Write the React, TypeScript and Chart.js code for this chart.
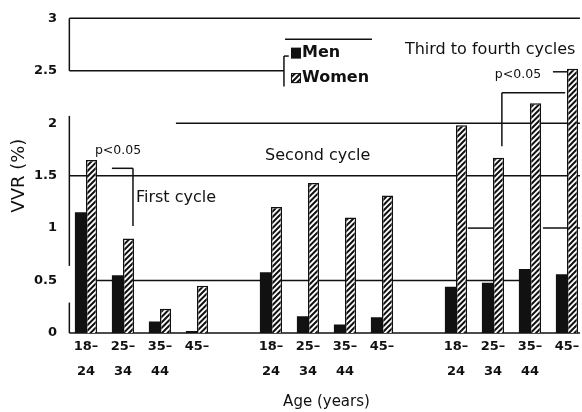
import React, { useEffect, useRef } from 'react';
import { Chart, registerables } from 'chart.js';

Chart.register(...registerables);

// ---- data ----
const ageGroups: (string | string[])[] = [['18–', '24'], ['25–', '34'], ['35–', '44'], ['45–']];
const cycleNames = ['First cycle', 'Second cycle', 'Third to fourth cycles'];
const seriesNames = ['Men', 'Women'];
const menFirst = [1.15, 0.55, 0.11, 0.02];
const womenFirst = [1.65, 0.9, 0.23, 0.45];
const menSecond = [0.58, 0.16, 0.08, 0.15];
const womenSecond = [1.2, 1.43, 1.1, 1.31];
const menThird = [0.44, 0.48, 0.61, 0.56];
const womenThird = [1.98, 1.67, 2.19, 2.52];
const yTicks = [0, 0.5, 1, 1.5, 2, 2.5, 3];
const yTitle = 'VVR (%)';
const xTitle = 'Age (years)';
const pText = 'p<0.05';

const labels = [...ageGroups, '', ...ageGroups, '', ...ageGroups];
const menData = [...menFirst, null, ...menSecond, null, ...menThird];
const womenData = [...womenFirst, null, ...womenSecond, null, ...womenThird];

const INK = '#111';
const FONT = "'DejaVu Sans', sans-serif";

function makeHatch(ctx: CanvasRenderingContext2D) {
  const s = 5.5;
  const n = 11;
  const c = document.createElement('canvas');
  c.width = n;
  c.height = n;
  const g = c.getContext('2d')!;
  g.fillStyle = '#fff';
  g.fillRect(0, 0, n, n);
  g.strokeStyle = INK;
  g.lineWidth = 2;
  g.beginPath();
  for (let k = -2; k <= 4; k++) {
    const o = k * s;
    g.moveTo(o - 2, n + 2);
    g.lineTo(o + n + 2, -2);
  }
  g.stroke();
  return ctx.createPattern(c, 'repeat')!;
}

export default function App() {
  const ref = useRef<HTMLCanvasElement>(null);

  useEffect(() => {
    document.body.style.margin = '0';
    document.body.style.overflow = 'hidden';
    const canvas = ref.current!;
    const c2d = canvas.getContext('2d')!;
    const hatch = makeHatch(c2d);

    const annot = {
      id: 'annot',
      beforeDatasetsDraw(chart: any) {
        const { ctx } = chart;
        const xs = chart.scales.x;
        const ys = chart.scales.y;
        const X = (u: number) => xs.left + (u * xs.width) / labels.length;
        const Y = (v: number) => ys.getPixelForValue(v);
        ctx.save();
        ctx.strokeStyle = INK;
        ctx.lineWidth = 1.5;
        const h = (v: number, u0: number, u1: number) => {
          ctx.beginPath();
          ctx.moveTo(X(u0), Y(v));
          ctx.lineTo(X(u1), Y(v));
          ctx.stroke();
        };
        const vl = (u: number, v0: number, v1: number) => {
          ctx.beginPath();
          ctx.moveTo(X(u), Y(v0));
          ctx.lineTo(X(u), Y(v1));
          ctx.stroke();
        };
        // horizontal reference lines (as in the scanned figure)
        h(3, 0.05, 13.85);
        h(2.5, 0.05, 5.85);
        h(2, 2.93, 13.85);
        h(1.5, 0.05, 13.85);
        h(1, 10.82, 11.5);
        h(1, 12.85, 13.85);
        h(0.5, 0.5, 12.55);
        h(0, 0.05, 13.85);
        // broken y axis
        vl(0.05, 2.5, 3);
        vl(0.05, 0.64, 2.07);
        vl(0.05, 0, 0.29);
        ctx.restore();
      },
      afterDatasetsDraw(chart: any) {
        const { ctx } = chart;
        const xs = chart.scales.x;
        const ys = chart.scales.y;
        const X = (u: number) => xs.left + (u * xs.width) / labels.length;
        const Y = (v: number) => ys.getPixelForValue(v);
        ctx.save();
        ctx.strokeStyle = INK;
        ctx.fillStyle = INK;
        ctx.lineWidth = 1.5;
        const seg = (u0: number, v0: number, u1: number, v1: number) => {
          ctx.beginPath();
          ctx.moveTo(X(u0), Y(v0));
          ctx.lineTo(X(u1), Y(v1));
          ctx.stroke();
        };
        // legend bracket and top line
        seg(5.88, 2.8, 8.23, 2.8);
        seg(5.85, 2.64, 5.85, 2.35);
        seg(5.85, 2.64, 5.98, 2.64);
        // first cycle bracket
        seg(1.2, 1.57, 1.77, 1.57);
        seg(1.77, 1.57, 1.77, 1.02);
        // third cycle bracket
        seg(11.74, 2.29, 13.45, 2.29);
        seg(11.74, 2.29, 11.74, 1.78);
        seg(13.12, 2.49, 13.53, 2.49);

        // legend boxes
        const bx = X(6.04);
        ctx.fillStyle = INK;
        ctx.fillRect(bx, Y(2.668) - 5.5, 10, 11);
        ctx.fillStyle = hatch;
        ctx.fillRect(bx, Y(2.43) - 5, 10, 10);
        ctx.lineWidth = 1;
        ctx.strokeRect(bx + 0.5, Y(2.43) - 5 + 0.5, 9, 9);

        // texts
        ctx.fillStyle = INK;
        ctx.textBaseline = 'middle';
        ctx.textAlign = 'left';
        ctx.font = `bold 16px ${FONT}`;
        ctx.fillText(seriesNames[0], X(6.34), Y(2.668));
        ctx.fillText(seriesNames[1], X(6.34), Y(2.43));
        ctx.font = `16px ${FONT}`;
        ctx.fillText(cycleNames[0], X(1.85), Y(1.29));
        ctx.fillText(cycleNames[1], X(5.34), Y(1.69));
        ctx.fillText(cycleNames[2], X(9.12), Y(2.7));
        ctx.font = `12.5px ${FONT}`;
        ctx.fillText(pText, X(0.74), Y(1.74));
        ctx.fillText(pText, X(11.55), Y(2.46));
        ctx.restore();
      },
    };

    const chart = new Chart(canvas, {
      type: 'bar',
      data: {
        labels,
        datasets: [
          {
            label: seriesNames[0],
            data: menData,
            backgroundColor: INK,
            borderWidth: 0,
            categoryPercentage: 0.6,
            barPercentage: 1,
          },
          {
            label: seriesNames[1],
            data: womenData,
            backgroundColor: hatch,
            borderColor: INK,
            borderWidth: 1.5,
            categoryPercentage: 0.6,
            barPercentage: 1,
          },
        ],
      } as any,
      options: {
        animation: false,
        responsive: true,
        maintainAspectRatio: false,
        layout: { padding: { top: 16, right: 14.5, left: 0, bottom: 0 } },
        plugins: { legend: { display: false }, tooltip: { enabled: false } },
        scales: {
          x: {
            offset: true,
            grid: { display: false, drawTicks: false },
            border: { display: false },
            ticks: {
              color: INK,
              autoSkip: false,
              maxRotation: 0,
              minRotation: 0,
              padding: 1,
              font: { family: FONT, size: 13, weight: 'bold', lineHeight: 1.95 },
            },
            title: {
              display: true,
              text: xTitle,
              color: INK,
              font: { family: FONT, size: 15 },
              padding: { top: 0, bottom: 1 },
            },
            afterFit: (s: any) => {
              s.height = 79;
            },
          },
          y: {
            min: 0,
            max: 3,
            grid: { display: false, drawTicks: false },
            border: { display: false },
            afterBuildTicks: (s: any) => {
              s.ticks = yTicks.map((v) => ({ value: v }));
            },
            ticks: {
              color: INK,
              padding: 10.5,
              callback: (v: any) => String(v),
              font: { family: FONT, size: 13, weight: 'bold' },
            },
            title: {
              display: true,
              text: yTitle,
              color: INK,
              font: { family: FONT, size: 18 },
              padding: { top: 9, bottom: 0 },
            },
            afterFit: (s: any) => {
              s.width = 67.5;
            },
          },
        },
      } as any,
      plugins: [annot],
    });
    return () => chart.destroy();
  }, []);

  return (
    <div style={{ width: 582, height: 412, overflow: 'hidden', position: 'relative', background: '#fff' }}>
      <div style={{ width: 600, height: 412, position: 'absolute', left: 0, top: 0 }}>
        <canvas ref={ref} />
      </div>
    </div>
  );
}
